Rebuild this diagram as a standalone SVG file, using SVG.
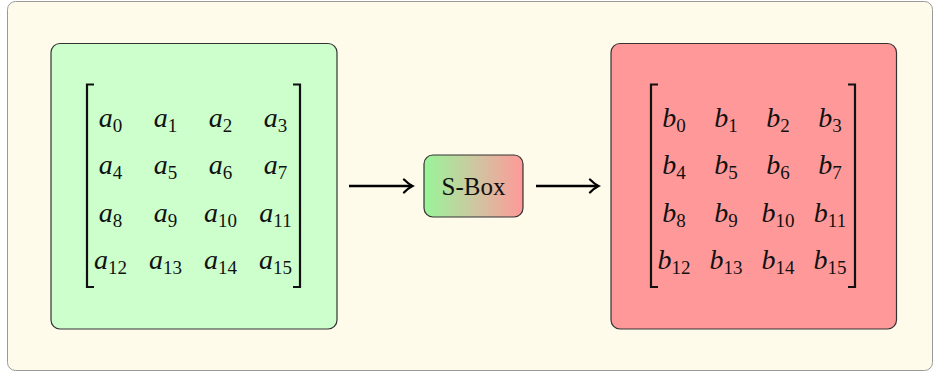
<svg xmlns="http://www.w3.org/2000/svg" width="935" height="375" viewBox="0 0 935 375">
  <style>
    .box { stroke: #333; stroke-width: 1.2; }
    .m { font-family: "Liberation Serif", "DejaVu Serif", serif; font-style: italic; font-size: 28px; fill: #111; text-anchor: middle; }
    .m tspan.s { font-style: normal; font-size: 19px; }
    .bracket { fill: none; stroke: #111; stroke-width: 2.2; }
    .lbl { font-family: "Liberation Serif", "DejaVu Serif", serif; font-size: 25px; fill: #111; text-anchor: middle; }
    .conn { fill: none; stroke: #000; stroke-width: 2.6; }
  </style>
  <defs>
    <linearGradient id="sboxFill" x1="0" y1="0" x2="1" y2="0">
      <stop offset="0" stop-color="#99f599"/>
      <stop offset="0.5" stop-color="#ccc8a0"/>
      <stop offset="1" stop-color="#ff9999"/>
    </linearGradient>
    <marker id="to" markerWidth="13" markerHeight="16" refX="10" refY="8" orient="auto" markerUnits="userSpaceOnUse">
      <path d="M2 1.5 Q6.5 6 10.5 8 Q6.5 10 2 14.5" fill="none" stroke="#000" stroke-width="2.3" stroke-linecap="round"/>
    </marker>
  </defs>

  <!-- background panel -->
  <rect x="7.5" y="1.5" width="925" height="369" rx="8" fill="#fffbea" stroke="#9a9a9a" stroke-width="1"/>

  <!-- input state matrix -->
  <g id="state-in">
    <rect class="box" x="51" y="43.5" width="286" height="285.5" rx="9" fill="#ccffcc"/>
    <path class="bracket" d="M94 84.5 H87 V287 H94"/>
    <path class="bracket" d="M293 84.5 H300 V287 H293"/>
    <text class="m" x="110.5" y="127">a<tspan class="s" dy="5">0</tspan></text>
    <text class="m" x="165.5" y="127">a<tspan class="s" dy="5">1</tspan></text>
    <text class="m" x="220.5" y="127">a<tspan class="s" dy="5">2</tspan></text>
    <text class="m" x="275.5" y="127">a<tspan class="s" dy="5">3</tspan></text>
    <text class="m" x="110.5" y="174">a<tspan class="s" dy="5">4</tspan></text>
    <text class="m" x="165.5" y="174">a<tspan class="s" dy="5">5</tspan></text>
    <text class="m" x="220.5" y="174">a<tspan class="s" dy="5">6</tspan></text>
    <text class="m" x="275.5" y="174">a<tspan class="s" dy="5">7</tspan></text>
    <text class="m" x="110.5" y="221.5">a<tspan class="s" dy="5">8</tspan></text>
    <text class="m" x="165.5" y="221.5">a<tspan class="s" dy="5">9</tspan></text>
    <text class="m" x="220.5" y="221.5">a<tspan class="s" dy="5">10</tspan></text>
    <text class="m" x="275.5" y="221.5">a<tspan class="s" dy="5">11</tspan></text>
    <text class="m" x="110.5" y="269">a<tspan class="s" dy="5">12</tspan></text>
    <text class="m" x="165.5" y="269">a<tspan class="s" dy="5">13</tspan></text>
    <text class="m" x="220.5" y="269">a<tspan class="s" dy="5">14</tspan></text>
    <text class="m" x="275.5" y="269">a<tspan class="s" dy="5">15</tspan></text>
  </g>

  <!-- substitution box -->
  <g id="sbox">
    <rect class="box" x="424" y="155" width="99" height="62" rx="9" fill="url(#sboxFill)"/>
    <text class="lbl" x="473.5" y="194.5">S-Box</text>
  </g>

  <!-- output state matrix -->
  <g id="state-out">
    <rect class="box" x="611" y="43.5" width="285.5" height="285.5" rx="9" fill="#ff9999"/>
    <path class="bracket" d="M658 84.5 H651 V287 H658"/>
    <path class="bracket" d="M848 84.5 H855 V287 H848"/>
    <text class="m" x="674" y="127">b<tspan class="s" dy="5">0</tspan></text>
    <text class="m" x="726" y="127">b<tspan class="s" dy="5">1</tspan></text>
    <text class="m" x="778" y="127">b<tspan class="s" dy="5">2</tspan></text>
    <text class="m" x="830" y="127">b<tspan class="s" dy="5">3</tspan></text>
    <text class="m" x="674" y="174">b<tspan class="s" dy="5">4</tspan></text>
    <text class="m" x="726" y="174">b<tspan class="s" dy="5">5</tspan></text>
    <text class="m" x="778" y="174">b<tspan class="s" dy="5">6</tspan></text>
    <text class="m" x="830" y="174">b<tspan class="s" dy="5">7</tspan></text>
    <text class="m" x="674" y="221.5">b<tspan class="s" dy="5">8</tspan></text>
    <text class="m" x="726" y="221.5">b<tspan class="s" dy="5">9</tspan></text>
    <text class="m" x="778" y="221.5">b<tspan class="s" dy="5">10</tspan></text>
    <text class="m" x="830" y="221.5">b<tspan class="s" dy="5">11</tspan></text>
    <text class="m" x="674" y="269">b<tspan class="s" dy="5">12</tspan></text>
    <text class="m" x="726" y="269">b<tspan class="s" dy="5">13</tspan></text>
    <text class="m" x="778" y="269">b<tspan class="s" dy="5">14</tspan></text>
    <text class="m" x="830" y="269">b<tspan class="s" dy="5">15</tspan></text>
  </g>

  <!-- connectors -->
  <g id="connectors">
    <path class="conn" d="M349 186 H412" marker-end="url(#to)"/>
    <path class="conn" d="M536 186 H598" marker-end="url(#to)"/>
  </g>
</svg>
